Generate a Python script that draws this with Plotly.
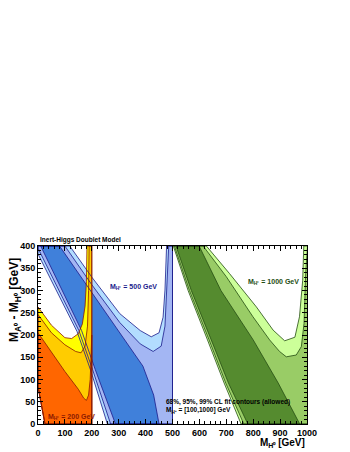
import plotly.graph_objects as go

# M_H+ = 200 GeV : 99%, 95%, 68% contours (upper boundaries), common lower-left edge
h200_edge_x = [26, 0]
h200_edge_y = [0, 84]
h200_99_x = [0, 50, 100, 125, 150, 165, 175, 180, 182]
h200_99_y = [263, 222, 194, 192, 203, 225, 265, 320, 400]
h200_95_x = [0, 50, 100, 140, 160, 175, 184, 188, 190]
h200_95_y = [246, 205, 178, 163, 160, 175, 220, 300, 400]
h200_68_x = [0, 50, 100, 150, 170, 180, 188, 194, 197, 199, 200]
h200_68_y = [205, 160, 118, 78, 58, 53, 65, 100, 140, 180, 200]

# M_H+ = 500 GeV : lower-left edges and upper boundaries
h500_lo99_x = [0, 87, 145, 195, 258]
h500_lo99_y = [382, 278, 208, 122, 0]
h500_lo95_x = [0, 95, 152, 203, 270]
h500_lo95_y = [395, 280, 210, 122, 0]
h500_lo68_x = [10, 105, 162, 213, 288]
h500_lo68_y = [400, 283, 210, 122, 0]
h500_up99_x = [118, 200, 304, 380, 421, 450, 465, 472, 478]
h500_up99_y = [400, 330, 248, 210, 196, 205, 240, 301, 400]
h500_up95_x = [100, 200, 304, 380, 428, 458, 472, 479, 486]
h500_up95_y = [400, 313, 228, 180, 163, 175, 220, 301, 400]
h500_up68_x = [80, 192, 304, 390, 430, 450]
h500_up68_y = [400, 303, 205, 130, 65, 0]

# M_H+ = 1000 GeV
h1000_lo_y = [400, 300, 189, 92, 0]
h1000_lo99_x = [503, 558, 630, 692, 755]
h1000_lo95_x = [507, 563, 636, 698, 765]
h1000_lo68_x = [513, 570, 644, 708, 780]
h1000_up99_x = [626, 712, 812, 874, 917, 955, 972, 984, 988]
h1000_up99_y = [400, 338, 263, 211, 187, 195, 241, 323, 400]
h1000_up95_x = [614, 700, 799, 861, 898, 923, 960, 979, 989, 995, 1002]
h1000_up95_y = [400, 331, 241, 189, 163, 151, 155, 174, 226, 338, 400]
h1000_up68_x = [599, 680, 800, 893, 973]
h1000_up68_y = [400, 300, 189, 92, 0]

c200 = ['#ffff00', '#ffcc00', '#ff6600']
c500 = ['#b3ddff', '#a3b6f3', '#4080da']
c1000 = ['#ccff99', '#99cc66', '#558b2f']
l200, l500, l1000 = '#8b1a00', '#1a1a8c', '#254d12'

fig = go.Figure()
outlines = []


def region(xs, ys, fill, line):
    fig.add_trace(go.Scatter(x=xs, y=ys, mode='lines', fill='toself', fillcolor=fill,
                             line=dict(width=0), hoverinfo='skip'))
    outlines.append((xs, ys, line))


# 1000 GeV
for lo, up_x, up_y, col in [(h1000_lo99_x, h1000_up99_x, h1000_up99_y, c1000[0]),
                            (h1000_lo95_x, h1000_up95_x, h1000_up95_y, c1000[1])]:
    xs = lo + [1010, 1010] + up_x[::-1]
    ys = h1000_lo_y + [0, 400] + up_y[::-1]
    region(xs, ys, col, l1000)
region(h1000_lo68_x + h1000_up68_x[::-1], h1000_lo_y + h1000_up68_y[::-1], c1000[2], l1000)

# 500 GeV
for lo_x, lo_y, up_x, up_y, col in [(h500_lo99_x, h500_lo99_y, h500_up99_x, h500_up99_y, c500[0]),
                                    (h500_lo95_x, h500_lo95_y, h500_up95_x, h500_up95_y, c500[1])]:
    xs = lo_x + [500, 500] + up_x[::-1] + [0]
    ys = lo_y + [0, 400] + up_y[::-1] + [400]
    region(xs, ys, col, l500)
region(h500_lo68_x + h500_up68_x[::-1], h500_lo68_y + h500_up68_y[::-1], c500[2], l500)

# 200 GeV
for cx, cy, col in [(h200_99_x, h200_99_y, c200[0]), (h200_95_x, h200_95_y, c200[1])]:
    region(h200_edge_x + cx + [200, 200], h200_edge_y + cy + [400, 0], col, l200)
region(h200_edge_x + h200_68_x + [200], h200_edge_y + h200_68_y + [0], c200[2], l200)

for xs, ys, col in outlines:
    fig.add_trace(go.Scatter(x=xs + xs[:1], y=ys + ys[:1], mode='lines',
                             line=dict(color=col, width=0.8), hoverinfo='skip'))

bold = dict(family='Liberation Sans, Arial', size=9, color='black', weight='bold')
axis = dict(showgrid=False, zeroline=False, showline=True, linecolor='black', linewidth=1,
            mirror='ticks', ticks='inside', ticklen=5, tickcolor='black', tickfont=bold,
            automargin=False)
fig.update_xaxes(range=[0, 1000], dtick=100, minor=dict(ticks='inside', dtick=20, ticklen=3,
                 tickcolor='black'), **axis)
fig.update_yaxes(range=[0, 400], dtick=50, minor=dict(ticks='inside', dtick=10, ticklen=3,
                 tickcolor='black'), **axis)

small = dict(family='Liberation Sans, Arial', size=7, weight='bold')
fig.add_annotation(text='Inert-Higgs Doublet Model', xref='paper', yref='paper', x=0, y=1,
                   xanchor='left', yanchor='bottom', showarrow=False,
                   font=dict(small, size=6.5, color='black'))
fig.add_annotation(text='M<sub>A⁰</sub> - M<sub>H⁰</sub> [GeV]', xref='paper', yref='paper',
                   x=-0.085, y=0.945, xanchor='center', yanchor='top', textangle=-90,
                   showarrow=False, font=dict(bold, size=12))
fig.add_annotation(text='M<sub>H⁰</sub> [GeV]', xref='paper', yref='paper', x=1, y=-0.06,
                   xanchor='right', yanchor='top', showarrow=False, font=dict(bold, size=10))
fig.add_annotation(text='M<sub>H⁺</sub> = 500 GeV', x=355, y=307, showarrow=False,
                   font=dict(small, color='#1a1a8c'))
fig.add_annotation(text='M<sub>H⁺</sub> = 1000 GeV', x=876, y=320, showarrow=False,
                   font=dict(small, color='#254d12'))
fig.add_annotation(text='M<sub>H⁺</sub> = 200 GeV', x=28, y=16, xanchor='left', showarrow=False,
                   font=dict(small, color='#8b1a00'))
fig.add_annotation(text='68%, 95%, 99% CL fit contours (allowed)<br>M<sub>H⁺</sub> = [100,1000] GeV',
                   x=470, y=40, xanchor='left', align='left', showarrow=False,
                   font=dict(small, size=6.5, color='black'))

# page body adds an 8 px offset, so the figure is drawn 8 px smaller
fig.update_layout(width=342, height=444, showlegend=False, paper_bgcolor='white',
                  plot_bgcolor='white', margin=dict(l=30, r=43, t=238, b=28))

fig.write_html('out.html')
